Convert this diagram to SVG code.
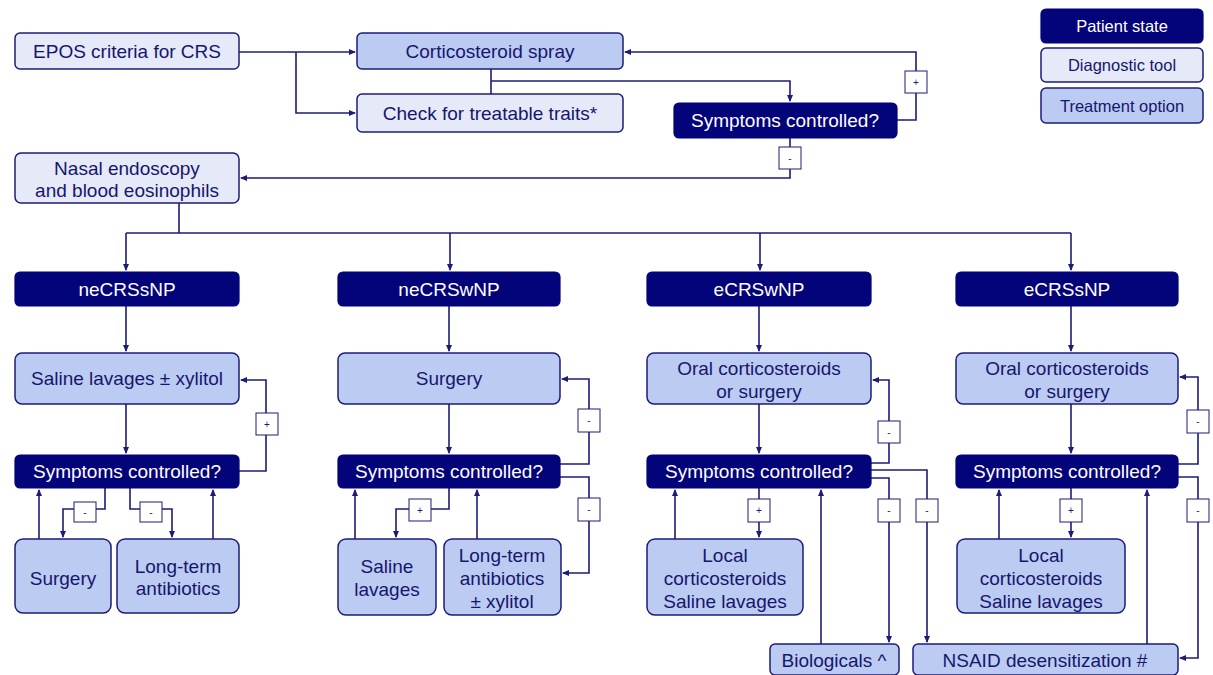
<svg xmlns="http://www.w3.org/2000/svg" width="1213" height="675" viewBox="0 0 1213 675">
<defs>
<style>
.st{fill:#03037a;stroke:#03037a;stroke-width:1.2}
.dg{fill:#e5e9f8;stroke:#1c1c78;stroke-width:1.5}
.tr{fill:#bccbf1;stroke:#1c1c78;stroke-width:1.5}
.tw{fill:#ffffff;font-family:"Liberation Sans",Arial,sans-serif;font-size:19px;text-anchor:middle}
.tn{fill:#16166e;font-family:"Liberation Sans",Arial,sans-serif;font-size:19px;text-anchor:middle}
.lg{font-size:16.5px}
.cn{fill:none;stroke:#1c1c78;stroke-width:1.6}
.lb{fill:#ffffff;stroke:#1c1c78;stroke-width:1}
.lt{fill:#1c1c78;font-family:"Liberation Sans",Arial,sans-serif;font-size:10px;text-anchor:middle}
</style>
<marker id="ah" markerWidth="7" markerHeight="6" refX="6" refY="3" orient="auto" markerUnits="userSpaceOnUse">
<path d="M0,0 L7,3 L0,6 Z" fill="#1c1c78"/>
</marker>
</defs>
<rect width="1213" height="675" fill="#ffffff"/>

<g id="connectors">
<path class="cn" d="M239,52 H355" marker-end="url(#ah)"/>
<path class="cn" d="M296,52 V113 H355" marker-end="url(#ah)"/>
<path class="cn" d="M491,69 V94"/>
<path class="cn" d="M491,81 H790 V101" marker-end="url(#ah)"/>
<path class="cn" d="M897,120 H916 V52 H625" marker-end="url(#ah)"/>
<path class="cn" d="M790,138 V178 H241" marker-end="url(#ah)"/>
<path class="cn" d="M179,203 V233 M126,233 H1071"/>
<path class="cn" d="M126,233 V270" marker-end="url(#ah)"/>
<path class="cn" d="M450,233 V270" marker-end="url(#ah)"/>
<path class="cn" d="M760,233 V270" marker-end="url(#ah)"/>
<path class="cn" d="M1071,233 V270" marker-end="url(#ah)"/>
<!-- column 1 -->
<path class="cn" d="M126,306 V351" marker-end="url(#ah)"/>
<path class="cn" d="M126,404 V453" marker-end="url(#ah)"/>
<path class="cn" d="M239,471 H266 V380 H241" marker-end="url(#ah)"/>
<path class="cn" d="M105,488 V509 H63 V537" marker-end="url(#ah)"/>
<path class="cn" d="M130,488 V509 H172 V537" marker-end="url(#ah)"/>
<path class="cn" d="M39,539 V490" marker-end="url(#ah)"/>
<path class="cn" d="M213,539 V490" marker-end="url(#ah)"/>
<!-- column 2 -->
<path class="cn" d="M449,306 V351" marker-end="url(#ah)"/>
<path class="cn" d="M449,404 V453" marker-end="url(#ah)"/>
<path class="cn" d="M560,464 H589 V379 H562" marker-end="url(#ah)"/>
<path class="cn" d="M560,477 H589 V573 H563" marker-end="url(#ah)"/>
<path class="cn" d="M449,488 V509 H396 V537" marker-end="url(#ah)"/>
<path class="cn" d="M355,539 V490" marker-end="url(#ah)"/>
<path class="cn" d="M477,539 V490" marker-end="url(#ah)"/>
<!-- column 3 -->
<path class="cn" d="M759,306 V351" marker-end="url(#ah)"/>
<path class="cn" d="M759,404 V453" marker-end="url(#ah)"/>
<path class="cn" d="M871,463 H889 V380 H873" marker-end="url(#ah)"/>
<path class="cn" d="M871,478 H889 V642" marker-end="url(#ah)"/>
<path class="cn" d="M871,470 H927 V642" marker-end="url(#ah)"/>
<path class="cn" d="M759,488 V537" marker-end="url(#ah)"/>
<path class="cn" d="M675,539 V490" marker-end="url(#ah)"/>
<path class="cn" d="M821,644 V490" marker-end="url(#ah)"/>
<!-- column 4 -->
<path class="cn" d="M1071,306 V351" marker-end="url(#ah)"/>
<path class="cn" d="M1071,404 V453" marker-end="url(#ah)"/>
<path class="cn" d="M1178,464 H1198 V377 H1180" marker-end="url(#ah)"/>
<path class="cn" d="M1178,477 H1198 V658 H1180" marker-end="url(#ah)"/>
<path class="cn" d="M1071,488 V537" marker-end="url(#ah)"/>
<path class="cn" d="M999,539 V490" marker-end="url(#ah)"/>
<path class="cn" d="M1147,644 V490" marker-end="url(#ah)"/>
<!-- labels -->
<rect class="lb" x="905" y="71" width="22" height="22"/><text class="lt" x="916" y="85.5">+</text>
<rect class="lb" x="779" y="147" width="22" height="22"/><text class="lt" x="790" y="161.5">-</text>
<rect class="lb" x="256" y="413" width="22" height="22"/><text class="lt" x="267" y="427.5">+</text>
<rect class="lb" x="74" y="502" width="22" height="20"/><text class="lt" x="85" y="515.5">-</text>
<rect class="lb" x="140" y="502" width="22" height="20"/><text class="lt" x="151" y="515.5">-</text>
<rect class="lb" x="578" y="409" width="22" height="23"/><text class="lt" x="589" y="424">-</text>
<rect class="lb" x="578" y="498" width="22" height="23"/><text class="lt" x="589" y="513">-</text>
<rect class="lb" x="409" y="499" width="22" height="22"/><text class="lt" x="420" y="513.5">+</text>
<rect class="lb" x="878" y="421" width="22" height="22"/><text class="lt" x="889" y="435.5">-</text>
<rect class="lb" x="878" y="499" width="22" height="23"/><text class="lt" x="889" y="514">-</text>
<rect class="lb" x="916" y="499" width="22" height="23"/><text class="lt" x="927" y="514">-</text>
<rect class="lb" x="748" y="499" width="22" height="23"/><text class="lt" x="759" y="514">+</text>
<rect class="lb" x="1187" y="410" width="22" height="23"/><text class="lt" x="1198" y="425">-</text>
<rect class="lb" x="1187" y="499" width="22" height="23"/><text class="lt" x="1198" y="514">-</text>
<rect class="lb" x="1060" y="499" width="22" height="23"/><text class="lt" x="1071" y="514">+</text>
</g>

<g id="legend-patient"><rect class="st" x="1041" y="9" width="162" height="34" rx="5"/><text class="tw lg" x="1122" y="32">Patient state</text></g>
<g id="legend-diagnostic"><rect class="dg" x="1041" y="48" width="162" height="34" rx="5"/><text class="tn lg" x="1122" y="71">Diagnostic tool</text></g>
<g id="legend-treatment"><rect class="tr" x="1041" y="88" width="162" height="35" rx="5"/><text class="tn lg" x="1122" y="111.5">Treatment option</text></g>

<g id="epos"><rect class="dg" x="15" y="33" width="224" height="36" rx="5"/><text class="tn" x="127" y="57.5">EPOS criteria for CRS</text></g>
<g id="spray"><rect class="tr" x="357" y="33" width="266" height="36" rx="5"/><text class="tn" x="490" y="57.5">Corticosteroid spray</text></g>
<g id="traits"><rect class="dg" x="357" y="94" width="266" height="38" rx="5"/><text class="tn" x="490" y="119.5">Check for treatable traits*</text></g>
<g id="sc0"><rect class="st" x="674" y="103" width="223" height="35" rx="5"/><text class="tw" x="785" y="127">Symptoms controlled?</text></g>
<g id="nasal"><rect class="dg" x="15" y="153" width="224" height="50" rx="6"/><text class="tn" x="127" y="174.5">Nasal endoscopy</text><text class="tn" x="127" y="196.5">and blood eosinophils</text></g>

<g id="neCRSsNP"><rect class="st" x="15" y="272" width="224" height="34" rx="5"/><text class="tw" x="127" y="295.5">neCRSsNP</text></g>
<g id="saline1"><rect class="tr" x="15" y="353" width="224" height="51" rx="7"/><text class="tn" x="127" y="385">Saline lavages ± xylitol</text></g>
<g id="sc1"><rect class="st" x="15" y="455" width="224" height="33" rx="5"/><text class="tw" x="127" y="478">Symptoms controlled?</text></g>
<g id="surgery1"><rect class="tr" x="15" y="539" width="96" height="74" rx="8"/><text class="tn" x="63" y="584.5">Surgery</text></g>
<g id="abx1"><rect class="tr" x="117" y="539" width="122" height="74" rx="8"/><text class="tn" x="178" y="572.5">Long-term</text><text class="tn" x="178" y="594.5">antibiotics</text></g>

<g id="neCRSwNP"><rect class="st" x="338" y="272" width="222" height="34" rx="5"/><text class="tw" x="449" y="295.5">neCRSwNP</text></g>
<g id="surgery2"><rect class="tr" x="338" y="353" width="222" height="51" rx="7"/><text class="tn" x="449" y="385">Surgery</text></g>
<g id="sc2"><rect class="st" x="338" y="455" width="222" height="33" rx="5"/><text class="tw" x="449" y="478">Symptoms controlled?</text></g>
<g id="saline2"><rect class="tr" x="338" y="539" width="98" height="76" rx="8"/><text class="tn" x="387" y="572.5">Saline</text><text class="tn" x="387" y="595.5">lavages</text></g>
<g id="abx2"><rect class="tr" x="444" y="539" width="117" height="76" rx="8"/><text class="tn" x="502" y="561.5">Long-term</text><text class="tn" x="502" y="584.5">antibiotics</text><text class="tn" x="502" y="607.5">± xylitol</text></g>

<g id="eCRSwNP"><rect class="st" x="647" y="272" width="224" height="34" rx="5"/><text class="tw" x="759" y="295.5">eCRSwNP</text></g>
<g id="oral3"><rect class="tr" x="647" y="353" width="224" height="51" rx="7"/><text class="tn" x="759" y="374.5">Oral corticosteroids</text><text class="tn" x="759" y="397.5">or surgery</text></g>
<g id="sc3"><rect class="st" x="647" y="455" width="224" height="33" rx="5"/><text class="tw" x="759" y="478">Symptoms controlled?</text></g>
<g id="local3"><rect class="tr" x="647" y="539" width="156" height="76" rx="8"/><text class="tn" x="725" y="561.5">Local</text><text class="tn" x="725" y="584.5">corticosteroids</text><text class="tn" x="725" y="607.5">Saline lavages</text></g>
<g id="biologicals"><rect class="tr" x="770" y="644" width="129" height="31" rx="5"/><text class="tn" x="834" y="666.5">Biologicals ^</text></g>

<g id="eCRSsNP"><rect class="st" x="956" y="272" width="222" height="34" rx="5"/><text class="tw" x="1067" y="295.5">eCRSsNP</text></g>
<g id="oral4"><rect class="tr" x="956" y="353" width="222" height="51" rx="7"/><text class="tn" x="1067" y="374.5">Oral corticosteroids</text><text class="tn" x="1067" y="397.5">or surgery</text></g>
<g id="sc4"><rect class="st" x="956" y="455" width="222" height="33" rx="5"/><text class="tw" x="1067" y="478">Symptoms controlled?</text></g>
<g id="local4"><rect class="tr" x="957" y="539" width="168" height="74" rx="8"/><text class="tn" x="1041" y="561.5">Local</text><text class="tn" x="1041" y="584.5">corticosteroids</text><text class="tn" x="1041" y="607.5">Saline lavages</text></g>
<g id="nsaid"><rect class="tr" x="913" y="644" width="265" height="31" rx="5"/><text class="tn" x="1045" y="666.5">NSAID desensitization #</text></g>
</svg>
